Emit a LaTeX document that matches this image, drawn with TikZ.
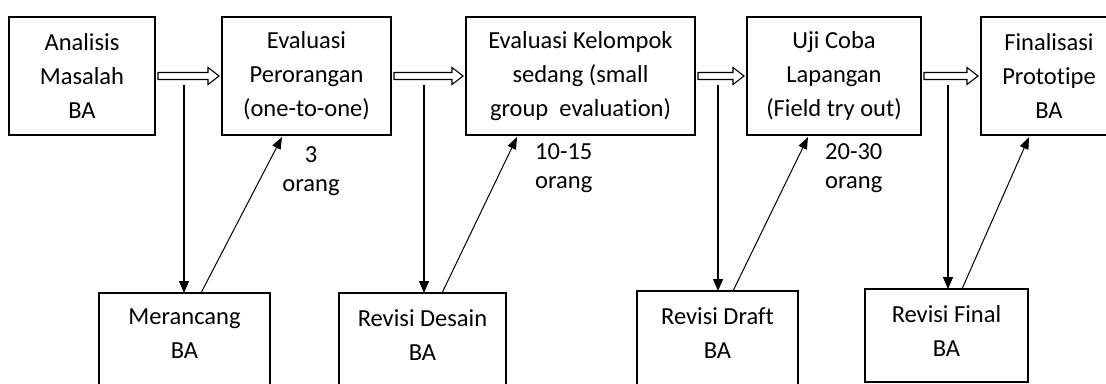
\documentclass[tikz,border=0pt]{standalone}
\usepackage{fontspec}
\setmainfont{Carlito}[Ligatures=NoCommon]
\usetikzlibrary{arrows.meta,calc}
\tikzset{
  box/.style={draw, line width=1.3pt, inner sep=0pt, outer sep=0pt, minimum height=118pt, align=center,
              font=\fontsize{24.5}{34}\selectfont},
  lowbox/.style={draw, line width=1.3pt, inner sep=0pt, outer sep=0pt},
  lowtext/.style={inner sep=0pt, anchor=north, align=center, font=\fontsize{24.5}{34}\selectfont},
  lbl/.style={inner sep=0pt, font=\fontsize{24.5}{29}\selectfont},
  hollowshape/.style={draw, line width=1.1pt, fill=white, line join=miter},
  downarrow/.style={draw, line width=1.3pt, -{Triangle[length=12pt,width=10pt]}},
  uparrow/.style={draw, line width=1pt, -{Triangle[length=12pt,width=9pt]}}
}
\newcommand{\hollowarr}[2]{%
  \draw[hollowshape] ($(#1.east)+(3,-3.5)$) -- ($(#2.west)+(-14,-3.5)$) -- ($(#2.west)+(-14,-8.5)$)
    -- ($(#2.west)+(-3,0)$) -- ($(#2.west)+(-14,8.5)$) -- ($(#2.west)+(-14,3.5)$)
    -- ($(#1.east)+(3,3.5)$) -- cycle;}
\begin{document}
\begin{tikzpicture}[x=1pt,y=-1pt]
\useasboundingbox (0,0) rectangle (1106,383);
\fill[white] (0,0) rectangle (1106,383);
\clip (0,0) rectangle (1106,383);

% top row
\node[box, minimum width=146pt] (b1) at (82,76) {Analisis\\Masalah\\BA};
\node[box, minimum width=169pt] (b2) at (306.5,76) {Evaluasi\\Perorangan\\(one-to-one)};
\node[box, minimum width=229pt] (b3) at (580.5,76) {Evaluasi Kelompok\\sedang (small\\group~ evaluation)};
\node[box, minimum width=174pt] (b4) at (834,76) {Uji Coba\\Lapangan\\(Field try out)};
\node[box, minimum width=136pt] (b5) at (1049,76) {Finalisasi\\Prototipe\\BA};

% bottom row
\node[lowbox, minimum width=171pt, minimum height=100pt] (m1) at (184.5,343) {};
\node[lowbox, minimum width=167pt, minimum height=100pt] (m2) at (422.5,343) {};
\node[lowbox, minimum width=161pt, minimum height=100pt] (m3) at (717.5,341) {};
\node[lowbox, minimum width=163pt, minimum height=93pt] (m4) at (946.5,335.5) {};
\node[lowtext] (t1) at ([yshift=-16pt]m1.north) {Merancang\\BA};
\node[lowtext] (t2) at ([yshift=-16pt]m2.north) {Revisi Desain\\BA};
\node[lowtext] (t3) at ([yshift=-16pt]m3.north) {Revisi Draft\\BA};
\node[lowtext] (t4) at ([yshift=-16pt]m4.north) {Revisi Final\\BA};

% hollow arrows
\hollowarr{b1}{b2}
\hollowarr{b2}{b3}
\hollowarr{b3}{b4}
\hollowarr{b4}{b5}

% vertical arrows
\coordinate (v1) at (184,85);
\coordinate (v2) at (424,85);
\coordinate (v3) at (718,85);
\coordinate (v4) at (948,85);
\draw[downarrow] (v1) -- (v1 |- m1.north);
\draw[downarrow] (v2) -- (v2 |- m2.north);
\draw[downarrow] (v3) -- (v3 |- m3.north);
\draw[downarrow] (v4) -- (v4 |- m4.north);

% diagonal arrows
\draw[uparrow] ([xshift=16.5pt]m1.north) -- ([xshift=-24.5pt,yshift=-2pt]b2.south);
\draw[uparrow] ([xshift=19.5pt]m2.north) -- ([xshift=-63.5pt,yshift=-2pt]b3.south);
\draw[uparrow] ([xshift=15.5pt]m3.north) -- ([xshift=-26pt,yshift=-2pt]b4.south);
\draw[uparrow] ([xshift=15.5pt]m4.north) -- ([xshift=-20pt,yshift=-2pt]b5.south);

% labels
\node[lbl, anchor=north, align=center] (l1) at (311,146) {3\\orang};
\node[lbl, anchor=north west, align=left] (l2) at (535,143) {10-15\\orang};
\node[lbl, anchor=north west, align=left] (l3) at (825,143) {20-30\\orang};
\end{tikzpicture}
\end{document}
